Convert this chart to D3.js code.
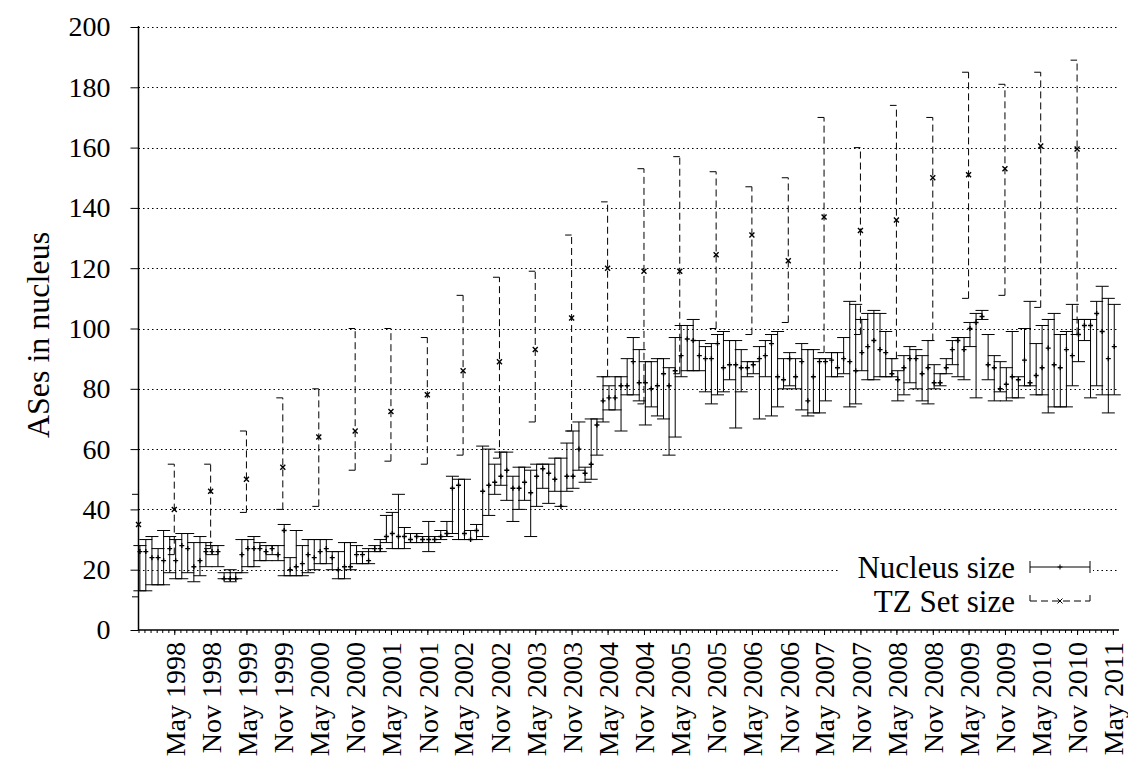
<!DOCTYPE html>
<html>
<head>
<meta charset="utf-8">
<script src="https://cdn.jsdelivr.net/npm/d3@7"></script>
<style>
  body { margin: 0; background: #fff; }
  text { font-family: "Liberation Serif", "Times New Roman", serif; fill: #000; }
</style>
</head>
<body>
<svg id="chart" width="1128" height="760"></svg>
<script>
// Nucleus size, one sample per month from Nov 1997 to May 2011
const nucleusMid = [
  26, 26, 24, 24, 23, 27, 23, 28, 27, 21, 23, 26, 26, 26, 17, 17, 17, 25, 27, 27,
  27, 26, 27, 25, 33, 20, 21, 22, 25, 24, 26, 27, 24, 20, 21, 21, 25, 25, 23, 27,
  27, 31, 32, 31, 31, 30, 31, 30, 30, 30, 31, 32, 47, 48, 32, 30, 33, 46, 48, 49,
  51, 53, 47, 47, 49, 45.5, 51, 53.5, 52, 50, 41, 51, 51, 60, 52, 55, 68, 76, 77, 77,
  81, 81, 89, 82, 82, 80, 81, 85, 81, 86, 91, 96.5, 96, 91, 90, 90, 95, 87, 88, 88,
  87, 87, 88, 90, 91, 95, 84, 83, 90, 84, 89, 76, 84, 89, 89, 89.5, 87, 90, 89, 86,
  92, 94, 96, 93, 92, 85, 83, 87, 90, 90, 85, 87, 82, 82, 87, 93, 96, 93, 100, 102,
  104, 88, 87, 80, 81.5, 84, 83, 89.5, 82, 84.4, 87, 93.5, 88, 87, 93, 91, 98, 101, 101, 105,
  99, 90, 94
];
const nucleusLow = [
  13, 13, 15, 15, 15, 19, 17, 17, 19, 16, 18, 21, 25, 21, 17, 16, 17, 19, 21, 21,
  23, 23, 25, 23, 18, 18, 18, 18, 19, 20, 22, 22, 20, 17, 17, 20, 22, 22, 22, 26,
  26, 29, 27, 27, 27, 29, 29, 29, 26, 29, 30, 31, 32, 30, 30, 30, 30, 31, 38, 45,
  48, 43, 36, 40, 43, 31, 41, 47, 42, 46, 41, 46, 47, 53, 49, 50, 58, 69, 73, 73,
  66, 78, 78, 76, 68, 74, 71, 70, 58, 64, 84, 86, 86, 86, 79, 75, 78, 79, 83, 67,
  79, 84, 85, 70, 84, 71, 74, 80, 81, 80, 73, 71, 72, 72, 76, 84, 84, 85, 74, 75,
  86, 83, 83, 84, 84, 84, 76, 78, 82, 80, 76, 75, 80, 81, 85, 88, 84, 83, 94, 77,
  103, 83, 76, 79, 76, 77, 77, 81, 81, 78, 78, 72, 74, 74, 74, 81, 89, 96, 77, 81,
  78, 72, 78
];
const nucleusHigh = [
  28, 30, 31, 27, 33, 31, 30, 32, 32, 29, 31, 29, 28, 28, 19, 20, 19, 30, 30, 31,
  29, 28, 28, 28, 35, 24, 33, 28, 30, 30, 30, 30, 26, 26, 29, 29, 28, 26, 27, 28,
  30, 38, 39, 45, 34, 32, 32, 31, 36, 31, 33, 36, 51, 50, 50, 33, 35, 61, 60, 55,
  59, 59, 51, 54, 54, 53, 55, 55, 55, 57, 57, 62, 66, 69, 54, 70, 70, 84, 81, 84,
  84, 90, 97, 93, 89, 89, 90, 90, 87, 97, 101, 101, 103, 96, 94, 95, 98, 99, 96, 96,
  93, 89, 89, 94, 96, 98, 99, 90, 92, 90, 95, 93, 93, 90, 90, 92, 92, 97, 109, 108,
  103, 105, 106, 105, 99, 90, 86, 91, 94, 93, 91, 96, 88, 85, 90, 96, 97, 97, 102, 105,
  106, 98, 91, 89, 87, 99, 84, 100, 109, 95, 101, 103, 105, 98, 99, 108, 103, 103, 103, 109,
  114, 110, 108
];

// TZ set size, one sample every six months from Nov 1997 to Nov 2010
const tzMid = [35, 40, 46, 50, 54, 64, 66, 72.5, 78, 86, 89, 93, 103.5, 120, 119, 119,
  124.5, 131, 122.5, 137, 132.5, 136, 150, 151, 153, 160.5, 159.5];
const tzLow = [11, 25, 27, 39, 40, 41, 53, 56, 55, 58, 57, 69, 66, 84, 75, 85,
  100, 98, 102, 92, 98, 90, 96, 110, 111, 107, 98];
const tzHigh = [45, 55, 55, 66, 77, 80, 100, 100, 97, 111, 117, 119, 131, 142, 153, 157,
  152, 147, 150, 170, 160, 174, 170, 185, 181, 185, 189];

const yTicks = [0, 20, 40, 60, 80, 100, 120, 140, 160, 180, 200];
const xTickLabels = [
  "May 1998", "Nov 1998", "May 1999", "Nov 1999", "May 2000", "Nov 2000",
  "May 2001", "Nov 2001", "May 2002", "Nov 2002", "May 2003", "Nov 2003",
  "May 2004", "Nov 2004", "May 2005", "Nov 2005", "May 2006", "Nov 2006",
  "May 2007", "Nov 2007", "May 2008", "Nov 2008", "May 2009", "Nov 2009",
  "May 2010", "Nov 2010", "May 2011"
];

const seriesNames = ["Nucleus size", "TZ Set size"];

const svg = d3.select("#chart");
const plotLeft = 138.5, plotRight = 1119, plotTop = 27, plotBottom = 630;

const start = new Date(1997, 10, 1);
const end = new Date(2011, 5, 1);
const x = d3.scaleTime().domain([start, end]).range([plotLeft, plotRight]);
const y = d3.scaleLinear().domain([0, 200]).range([plotBottom, plotTop]);

const parseTick = d3.timeParse("%b %Y");
const tickDates = xTickLabels.map(parseTick);

const nucleusDates = nucleusMid.map((_, i) => d3.timeDay.offset(d3.timeMonth.offset(start, i), 7));
const tzDates = tzMid.map((_, i) => d3.timeMonth.offset(start, 6 * i));

const capW = 6.5;

// grid lines
svg.append("g").selectAll("line").data(yTicks.filter(v => v > 0)).join("line")
  .attr("x1", plotLeft).attr("x2", plotRight)
  .attr("y1", d => Math.round(y(d)) + 0.5).attr("y2", d => Math.round(y(d)) + 0.5)
  .attr("stroke", "#000").attr("stroke-width", 1).attr("stroke-dasharray", "1.5,3");

// y axis
const yAxis = svg.append("g").attr("transform", `translate(${plotLeft},0)`)
  .call(d3.axisLeft(y).tickValues(yTicks).tickSize(8).tickPadding(20).tickFormat(d3.format("d")));
yAxis.select(".domain").remove();
yAxis.selectAll("line").attr("stroke", "#000");
yAxis.selectAll("text").style("font-size", "28px").style("font-family", "Liberation Serif");

// x axis: monthly minor ticks and six-monthly labelled ticks
const xMinor = svg.append("g").attr("transform", `translate(0,${plotBottom})`)
  .call(d3.axisBottom(x).tickValues(d3.timeMonth.range(start, end)).tickSize(3).tickFormat(""));
xMinor.select(".domain").remove();
const xAxis = svg.append("g").attr("transform", `translate(0,${plotBottom})`)
  .call(d3.axisBottom(x).tickValues(tickDates).tickSize(5).tickFormat((d, i) => xTickLabels[i]));
xAxis.select(".domain").remove();
xAxis.selectAll("line").attr("stroke", "#000");
xMinor.selectAll("line").attr("stroke", "#000");
xAxis.selectAll("text")
  .style("font-size", "28px").style("font-family", "Liberation Serif")
  .attr("text-anchor", "end")
  .attr("dy", "0.35em")
  .attr("transform", "translate(0,6) rotate(-90)")
  .attr("x", -6).attr("y", 0);

// axis lines (left and bottom border)
svg.append("path")
  .attr("d", `M${plotLeft},${plotTop - 1}V${plotBottom}H${plotRight}`)
  .attr("fill", "none").attr("stroke", "#000").attr("stroke-width", 1.5);

// y axis title
svg.append("text")
  .attr("transform", `translate(38,335) rotate(-90)`)
  .attr("text-anchor", "middle").attr("dy", "0.35em")
  .style("font-size", "32px").text("ASes in nucleus");

// TZ set error bars (dashed)
const tz = svg.append("g").attr("stroke", "#000").attr("fill", "none");
tzMid.forEach((v, i) => {
  const cx = x(tzDates[i]);
  tz.append("line").attr("x1", cx).attr("x2", cx)
    .attr("y1", y(tzLow[i])).attr("y2", y(tzHigh[i]))
    .attr("stroke-dasharray", "7,4");
  [tzLow[i], tzHigh[i]].forEach(e => {
    tz.append("line").attr("x1", cx - capW).attr("x2", cx)
      .attr("y1", y(e)).attr("y2", y(e));
  });
  const my = y(v);
  tz.append("path").attr("d", `M${cx - 2.5},${my - 2.5}L${cx + 2.5},${my + 2.5}M${cx - 2.5},${my + 2.5}L${cx + 2.5},${my - 2.5}`)
    .attr("stroke-width", 1.4);
});

// nucleus size error bars (solid)
const nu = svg.append("g").attr("stroke", "#000").attr("fill", "none").attr("stroke-width", 1);
nucleusMid.forEach((v, i) => {
  const cx = x(nucleusDates[i]);
  const yl = y(nucleusLow[i]), yh = y(nucleusHigh[i]), my = y(v);
  nu.append("path").attr("d",
    `M${cx},${yl}V${yh}M${cx - capW},${yl}H${cx + capW}M${cx - capW},${yh}H${cx + capW}`);
  nu.append("path").attr("stroke-width", 1.4).attr("d",
    `M${cx - 2.5},${my}H${cx + 2.5}M${cx},${my - 2.5}V${my + 2.5}`);
});

// legend
const legend = svg.append("g");
const rowY = [567, 601];
legend.append("rect").attr("x", 840).attr("y", rowY[0] - 17).attr("width", 253).attr("height", 56).attr("fill", "#fff");
seriesNames.forEach((name, i) => {
  legend.append("text").attr("x", 1015).attr("y", rowY[i]).attr("dy", "0.35em")
    .attr("text-anchor", "end").style("font-size", "31px").text(name);
});
const s1 = rowY[0], s2 = rowY[1];
legend.append("path").attr("stroke", "#000").attr("fill", "none")
  .attr("d", `M1030,${s1}H1090M1030,${s1 - 6}V${s1 + 6}M1090,${s1 - 6}V${s1 + 6}M1057.5,${s1}H1062.5M1060,${s1 - 2.5}V${s1 + 2.5}`);
legend.append("path").attr("stroke", "#000").attr("fill", "none").attr("stroke-dasharray", "7,4")
  .attr("d", `M1030,${s2}H1090`);
legend.append("path").attr("stroke", "#000").attr("fill", "none")
  .attr("d", `M1030,${s2 - 6}V${s2}M1090,${s2 - 6}V${s2}M1057.5,${s2 - 2.5}L1062.5,${s2 + 2.5}M1057.5,${s2 + 2.5}L1062.5,${s2 - 2.5}`);
</script>
</body>
</html>
